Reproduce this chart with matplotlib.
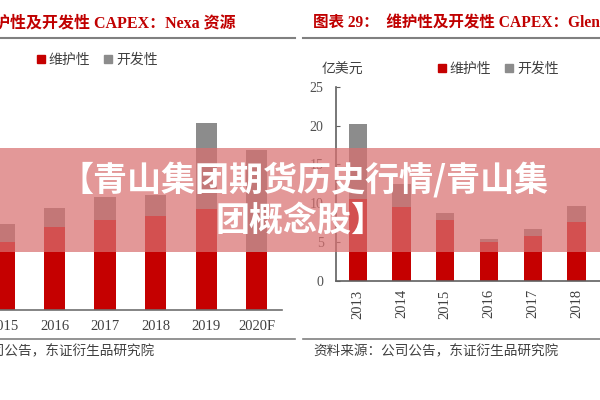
import matplotlib
matplotlib.use("Agg")
import matplotlib.pyplot as plt
from matplotlib.patches import Rectangle
from matplotlib.lines import Line2D

# data
left_years = ['2015', '2016', '2017', '2018', '2019', '2020F']
left_maint = [2.19, 2.68, 2.90, 3.03, 3.26, 1.87]
left_dev = [0.58, 0.61, 0.75, 0.68, 2.77, 3.29]

right_years = ['2013', '2014', '2015', '2016', '2017', '2018']
right_maint = [10.6, 9.5, 7.85, 5.0, 5.85, 7.65]
right_dev = [9.6, 3.0, 0.9, 0.4, 0.8, 2.0]
right_yticks = [0, 5, 10, 15, 20, 25]

left_title = '图表 28：  维护性及开发性 CAPEX：Nexa 资源'
right_title = '图表 29：  维护性及开发性 CAPEX：Glencore 资源'
source = '资料来源：公司公告，东证衍生品研究院'
legend_labels = ['维护性', '开发性']
banner_lines = ['【青山集团期货历史行情/青山集', '团概念股】']

RED = '#C50000'
GRAY = '#8C8C8C'
TITLE_RED = '#C00000'
MIX = ['Liberation Serif', 'Noto Sans CJK SC']

W, H = 600, 400
fig = plt.figure(figsize=(6, 4), dpi=100)


def fx(x):
    return x / W


def fy(y):
    return 1 - y / H


def box(x0, y0, x1, y1):
    # pixel box (top-left origin) -> figure rect
    return [fx(x0), fy(y1), (x1 - x0) / W, (y1 - y0) / H]


# ---------- left panel ----------
ax1 = fig.add_axes(box(-21.3, 93, 282, 310))
xl = range(len(left_years))
ax1.bar(xl, left_maint, width=0.42, color=RED, zorder=2)
ax1.bar(xl, left_dev, width=0.42, bottom=left_maint, color=GRAY, zorder=2)
ax1.set_xlim(-0.5, 5.5)
ax1.set_ylim(0, 7)
for s in ['top', 'right', 'left']:
    ax1.spines[s].set_visible(False)
ax1.spines['bottom'].set_color('#707070')
ax1.spines['bottom'].set_linewidth(1.2)
ax1.set_yticks([])
ax1.set_xticks(list(xl))
ax1.set_xticklabels(left_years, family='Liberation Serif', fontsize=10.5, color='#404040')
ax1.tick_params(axis='x', length=0, pad=7)

# ---------- right panel ----------
ax2 = fig.add_axes(box(336, 86.7, 642, 281))
xr = range(len(right_years))
ax2.bar(xr, right_maint, width=0.42, color=RED, zorder=2)
ax2.bar(xr, right_dev, width=0.42, bottom=right_maint, color=GRAY, zorder=2)
ax2.set_xlim(-0.5, 6.5)
ax2.set_ylim(0, 25)
ax2.spines['top'].set_visible(False)
ax2.spines['right'].set_visible(False)
for s in ['left', 'bottom']:
    ax2.spines[s].set_color('#606060')
    ax2.spines[s].set_linewidth(1.2)
ax2.set_yticks(right_yticks)
ax2.set_yticklabels([str(v) for v in right_yticks], family='Liberation Serif',
                    fontsize=10, color='#505050')
ax2.tick_params(axis='y', direction='in', length=3, color='#606060', pad=9)
ax2.set_xticks(list(xr))
ax2.set_xticklabels(right_years, rotation=90, family='Liberation Serif',
                    fontsize=10.5, color='#404040')
ax2.tick_params(axis='x', length=0, pad=6)

# ---------- titles, rules, legends, source ----------
fig.text(fx(236), fy(23), left_title, ha='right', va='center', family=MIX,
         fontsize=11.5, weight='bold', color=TITLE_RED)
fig.text(fx(313), fy(23), right_title, ha='left', va='center', family=MIX,
         fontsize=11.2, weight='bold', color=TITLE_RED)

for x0, x1 in [(0, 295), (303, 600)]:
    fig.add_artist(Line2D([fx(x0), fx(x1)], [fy(37.5), fy(37.5)], color='#808080', lw=1.5))
    fig.add_artist(Line2D([fx(x0), fx(x1)], [fy(339), fy(339)], color='#808080', lw=1.2))

fig.text(fx(155), fy(352), source, ha='right', va='center', family=MIX,
         fontsize=9.8, color='#404040')
fig.text(fx(313), fy(352), source, ha='left', va='center', family=MIX,
         fontsize=9.8, color='#404040')

fig.text(fx(322), fy(70), '亿美元', ha='left', va='center', family=MIX,
         fontsize=10, color='#404040')

handles = [Rectangle((0, 0), 1, 1, color=RED), Rectangle((0, 0), 1, 1, color=GRAY)]
for lx, ly in [(37, 60), (438, 69)]:
    fig.legend(handles, legend_labels, loc='center left', bbox_to_anchor=(fx(lx), fy(ly)),
               bbox_transform=fig.transFigure, ncol=2, frameon=False, borderpad=0,
               borderaxespad=0, handlelength=0.55, handleheight=0.55, handletextpad=0.3,
               columnspacing=1.0, prop={'family': MIX, 'size': 10}, labelcolor='#404040')

# ---------- banner overlay ----------
fig.add_artist(Rectangle((0, fy(252)), 1, (252 - 148) / H, transform=fig.transFigure,
                         facecolor='#D97070', alpha=0.72, edgecolor='none', zorder=10))
fig.text(fx(304), fy(180), banner_lines[0], ha='center', va='center', family=['Noto Sans CJK SC'],
         fontsize=24.5, weight='bold', color='white', zorder=11)
fig.text(fx(301), fy(220), banner_lines[1], ha='center', va='center', family=['Noto Sans CJK SC'],
         fontsize=24.5, weight='bold', color='white', zorder=11)

fig.savefig('out.png', dpi=100)
